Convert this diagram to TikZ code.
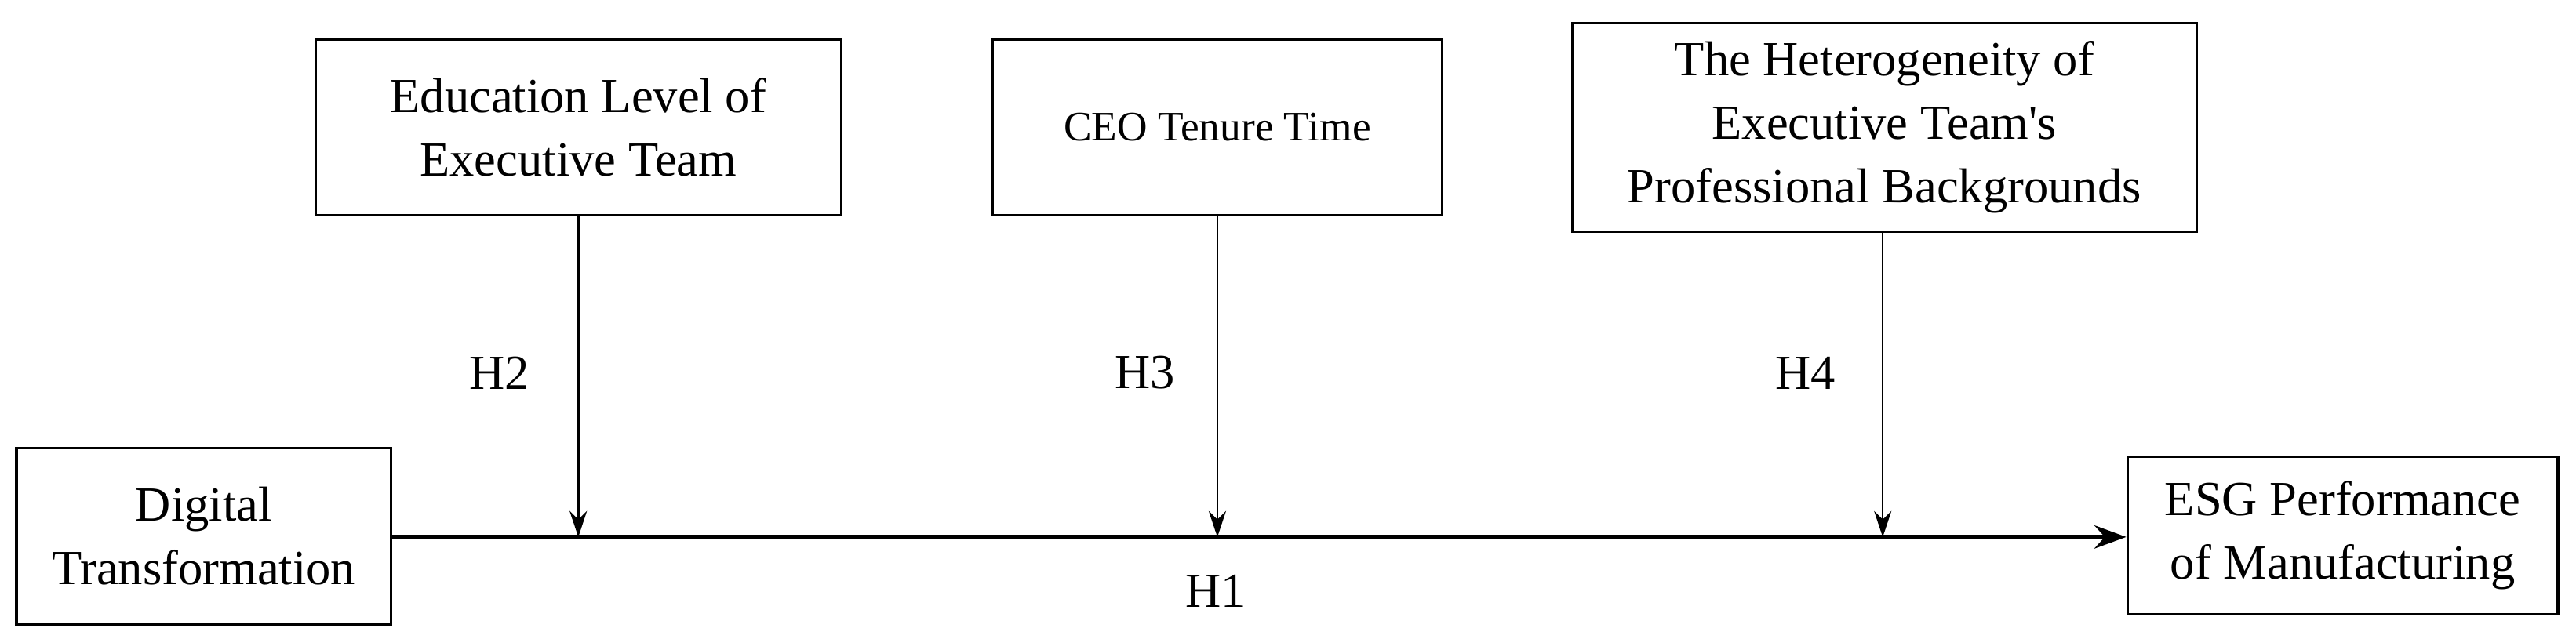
\documentclass[tikz,border=0pt]{standalone}
\usepackage{fontspec}
\defaultfontfeatures[\rmfamily]{}
\setmainfont{Liberation Serif}
\usetikzlibrary{arrows.meta}
\begin{document}
\begin{tikzpicture}[x=0.02cm,y=-0.02cm,
  box/.style={draw,line width=0.9pt,inner sep=0pt,align=center,font=\fontsize{17}{22}\selectfont},
  conn/.style={line width=0.7pt,-{Stealth[length=9pt,width=6pt]}},
  lab/.style={font=\fontsize{17}{20}\selectfont}]
\useasboundingbox (0,0) rectangle (1568,389);
\node[box,minimum width=6.4cm,minimum height=2.14cm] (edu) at (352,77.5) {Education Level of\\Executive Team};
\node[box,font=\fontsize{14.5}{18}\selectfont,minimum width=5.48cm,minimum height=2.14cm] (ceo) at (741,77.5) {CEO Tenure Time};
\node[box,minimum width=7.6cm,minimum height=2.54cm] (het) at (1147,77.5) {The Heterogeneity of\\Executive Team's\\Professional Backgrounds};
\node[box,minimum width=4.56cm,minimum height=2.14cm] (dt) at (124,326.5) {Digital\\Transformation};
\node[box,minimum width=5.24cm,minimum height=1.92cm] (esg) at (1426,326) {ESG Performance\\of Manufacturing};
\coordinate (p2) at (352,327);
\coordinate (p3) at (741,327);
\coordinate (p4) at (1146,327);
\draw[line width=1.6pt,-{Stealth[length=11pt,width=8pt]}] (dt.east |- 0,327) -- (esg.west |- 0,327);
\draw[conn] (edu.south -| p2) -- (p2);
\draw[conn] (ceo.south -| p3) -- (p3);
\draw[conn] (het.south -| p4) -- (p4);
\node[lab] (h2) at (304,227) {H2};
\node[lab] (h3) at (697,227) {H3};
\node[lab] (h4) at (1099,227) {H4};
\node[lab] (h1) at (740,360) {H1};
\end{tikzpicture}
\end{document}
